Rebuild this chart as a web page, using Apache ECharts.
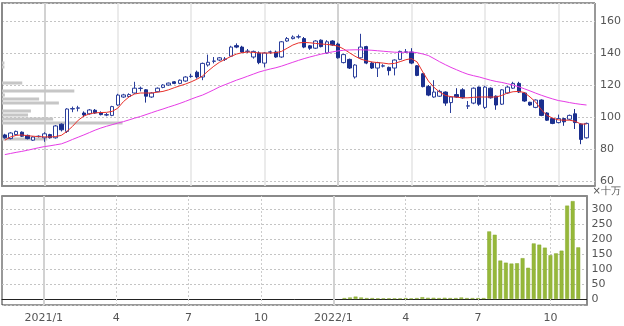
<!DOCTYPE html>
<html><head><meta charset="utf-8">
<script src="https://cdn.jsdelivr.net/npm/echarts/dist/echarts.min.js"></script>
<style>html,body{margin:0;padding:0;background:#fff}#c{width:624px;height:326px}</style>
</head><body><div id="c"></div>
<script>
// weekly categories (Monday of each week), 104 weeks of data + 1 empty slot
const startWeek = Date.UTC(2020, 10, 16);
const weeks = [];
for (let i = 0; i < 105; i++) {
  const d = new Date(startWeek + i * 7 * 86400000);
  weeks.push(d.getUTCFullYear() + '/' + (d.getUTCMonth() + 1) + '/' + d.getUTCDate());
}
const tickDates = ['2021/1/4','2021/4/5','2021/7/5','2021/10/4','2022/1/3','2022/4/4','2022/7/4','2022/10/3'];
const tickLabels = ['2021/1','4','7','10','2022/1','4','7','10'];

// [open, close, low, high]
const candles = [
[88.8,87,86.5,89.5],[86.5,90,86,90.5],[89,91,88.5,91.5],[90.5,88,87.5,91],[88.5,86.5,86,89],
[85.5,87.5,85,88],[87.8,88,87.2,88.5],[87,89.5,84.5,90.5],[89,87,86.5,89.5],[87,94.4,86.5,95],
[95.5,92,91,96],[91,105,90,105.5],[105,105.3,103,106.5],[105.5,105.7,103.5,107],[102.5,101.3,100,103.5],
[102,104.4,101.5,105],[104.2,102.5,102,105],[102.5,101.5,101,103.5],[101.2,101.5,100.5,102.5],[101,106.5,100.5,107],
[107.5,113.7,107,114.5],[112.5,113.8,112,114.5],[112.8,114,112.3,114.8],[115,118,114.5,122],[117.8,118,116,119],
[117,113,109,117.5],[112.5,115,112,115.5],[115.8,118,115.5,118.5],[118.5,120,118,120.5],[120,121.2,119.5,121.5],
[122,121,120.5,122.5],[121,123,120.5,123.5],[122.5,125,122,125.5],[125.3,125.5,124.5,127],[128,125,124,129],
[125,133.5,123,134],[132.5,134.2,131.5,139],[134.8,135,133.5,137.5],[135.6,137,135,137.5],[136,136.2,135,137.5],
[138,143.7,137.5,144.5],[144.6,143.7,143,146],[143.7,140.6,140,144.5],[141,141.2,140,142.5],[137.5,141,136.5,141.5],
[140,134,133,141],[133.7,140,131,140.5],[140.5,140.7,139.5,141.5],[140.6,137.5,137,141.5],[137.5,147,137,147.5],
[147.5,149,147,150],[149,150,148.5,151],[150,150.2,149,151.5],[149,143.7,143,150],[144.5,143,142,145],
[143,147.5,142.5,148],[148,144,143.5,148.5],[140,147,139.5,148],[147.5,145,144.5,148],[145.6,137,136.5,146.5],
[134,139,133.5,139.5],[136,130.6,130,136.5],[125,132.5,124,133],[137,143.7,136.5,152],[144,133.7,133,144.5],
[133.7,130.6,130,134.5],[130.6,134,125,134.5],[131.8,132,131,133],[131,129,126,131.5],[130.6,135.6,126,136],
[136,141,135.5,141.5],[140.5,140.7,140,142.5],[140.6,133.7,133,143],[132,126,125.5,132.5],[127,119,118.5,127.5],
[119,113.7,113,120],[112.5,115.6,112,123],[113,116,112.5,117],[115.6,108.7,107,116],[109,112.5,102.5,113],
[114,112.5,112,118],[117,112,111.5,118],[106.8,107,105,110],[108.7,118,108,118.5],[118.7,108,107,119],
[106,118.7,105,119.5],[118,112,111.5,118.5],[113,107.5,104.5,113.5],[108,117,107.5,117.5],[115,118.7,114.5,119.5],
[118,121,117.5,122],[121,115.6,115,122],[115,110,109.5,115.5],[109.2,107.5,107,109.5],[106,110.6,105.5,111],
[110.6,101,100.5,111],[102.5,98,97.5,103],[99,96,95.5,99.5],[96.5,99,96,101.5],[99,97,94.5,99.5],
[98.6,101,98,101.5],[102,96.5,92.5,105],[95.6,86,83,96],[87,96,86.5,96.5]
];

const maShort = [
85.5,87.5,88.5,88.8,88.3,88,87.7,87.6,87.5,87.8,
88.5,91,94.2,98,100.6,102,102.6,102.8,102.9,103.5,
105.5,109.6,112.6,114.4,115,115,115,115.5,116,117,
118.3,119.5,120.6,122,123.6,125.6,128.8,131.7,134.2,136,
137.8,139.3,140.2,140.6,140.4,140,140,140,140.2,141,
143,145,146.3,146.6,146.4,146,145.6,145.4,145,144.3,
142.5,140.2,138,136.2,135.2,134.4,134,133.7,133.2,133.5,
134.6,135.8,136.5,134.4,128.2,122.5,118.5,115.5,113.5,112.7,
112.4,112,112,112.3,112.5,112.5,112.5,112.5,113.5,115,
115.8,116,115.3,112.5,109.3,104.5,101,99.3,98.2,98,
98,97.3,95.6,95.6
];
const maLong = [
76.5,77.2,77.9,78.5,79.2,80,80.8,81.5,82,82.6,
83.2,84.5,86,87.4,88.8,90.3,91.8,93.1,94.2,95.2,
96.2,97.1,98.2,99.3,100.3,101.5,102.7,103.9,105,106.2,
107.3,108.5,109.8,111.2,112.5,113.7,115.3,117,118.8,120.2,
121.6,123,124.2,125.5,126.8,128.1,129.1,130,130.8,131.8,
133,134.2,135.4,136.5,137.5,138.4,139.3,140,140.7,141.3,
141.7,141.9,142,142,141.9,141.7,141.4,141.1,140.8,140.5,
140.4,140.5,140.6,140.2,139.4,138.4,136.5,134.5,132.7,131,
129.5,128,126.7,125.8,125,124,123,122.2,121.6,120.8,
119.9,118.9,117.6,116.3,114.9,113.6,112.4,111.3,110.3,109.7,
109,108.4,107.9,107.5
];

// volume in units of 100,000 shares
const volumes = [
null,null,null,null,null,null,null,null,null,null,
null,null,null,null,null,null,null,null,null,null,
null,null,null,null,null,null,null,null,null,null,
null,null,null,null,null,null,null,null,null,null,
null,null,null,null,null,null,null,null,null,null,
null,null,null,null,null,null,null,null,null,null,
null,3,5,8,5,3,3,2,2,2,
2,2,3,2,3,6,4,4,3,4,
3,3,5,3,3,3,3,225,214,128,
121,118,119,136,104,185,181,171,146,152,
161,311,326,172
];

// volume-by-price profile (band centre price, relative volume)
const profilePrices = [133.75,131.25,121.25,116.25,113.75,111.25,108.75,103.75,101.25,98.75,96.25,86.25];
const profileVolumes = [25,25,210,750,30,385,590,300,270,530,1250,470];
const profileAxisMax = 6150;

const FONT = 'DejaVu Sans';
const isYear = k => tickLabels[k].indexOf('/') >= 0;
function vlines(yearStyle, qStyle) {
  return tickDates.map((d, k) => ({ xAxis: d, lineStyle: isYear(k) ? yearStyle : qStyle }));
}

const chart = echarts.init(document.getElementById('c'), null, { renderer: 'canvas' });
chart.setOption({
  animation: false,
  backgroundColor: '#fff',
  grid: [
    { left: 2, right: 29, top: 3, height: 183, show: true, borderColor: '#333', borderWidth: 1 },
    { left: 2, right: 29, top: 196, height: 109, show: true, borderColor: '#333', borderWidth: 1 }
  ],
  xAxis: [
    { type: 'category', gridIndex: 0, data: weeks, boundaryGap: true,
      axisLine: { show: true, lineStyle: { color: '#8a8a8a', width: 2 } },
      axisTick: { show: false }, axisLabel: { show: false }, splitLine: { show: false } },
    { type: 'category', gridIndex: 1, data: weeks, boundaryGap: true,
      axisLine: { show: true, lineStyle: { color: '#222', width: 1 } },
      axisTick: { show: false }, splitLine: { show: false },
      axisLabel: { show: true, interval: (i, v) => tickDates.indexOf(v) >= 0,
        formatter: v => { const k = tickDates.indexOf(v); return k >= 0 ? tickLabels[k] : ''; },
        fontFamily: FONT, fontSize: 11, color: '#555', margin: 8 } },
    { type: 'value', gridIndex: 0, position: 'top', min: 0, max: profileAxisMax, show: false },
    { type: 'category', gridIndex: 1, position: 'top', data: weeks,
      axisLine: { show: true, lineStyle: { color: '#8a8a8a', width: 2 } },
      axisTick: { show: false }, axisLabel: { show: false }, splitLine: { show: false } }
  ],
  yAxis: [
    { type: 'value', gridIndex: 0, position: 'right', min: 56.875, max: 171.25, splitNumber: 5,
      axisLine: { show: true, lineStyle: { color: '#8a8a8a', width: 2 } },
      axisTick: { show: false },
      axisLabel: { formatter: v => (Math.abs(v % 20) < 1e-6 ? String(v) : ''), fontFamily: FONT, fontSize: 11, color: '#555', margin: 5 },
      splitLine: { show: true, lineStyle: { color: '#c4c4c4', type: [2, 2], width: 1 } } },
    { type: 'value', gridIndex: 1, position: 'right', min: -20, max: 343, splitNumber: 7,
      name: '×十万', nameLocation: 'end', nameGap: 0,
      nameTextStyle: { fontFamily: FONT, fontSize: 10, color: '#555', align: 'left', padding: [0, 0, 0, 6] },
      axisLine: { show: true, lineStyle: { color: '#8a8a8a', width: 2 } },
      axisTick: { show: false },
      axisLabel: { formatter: v => (v >= 0 && Math.abs(v % 50) < 1e-6 ? String(v) : ''), fontFamily: FONT, fontSize: 11, color: '#555', margin: 5 },
      splitLine: { show: true, lineStyle: { color: '#c4c4c4', type: [2, 2], width: 1 } } }
  ],
  series: [
    { type: 'custom', xAxisIndex: 2, yAxisIndex: 0, z: 1, silent: true,
      data: profilePrices.map((p, k) => [p, profileVolumes[k]]),
      encode: { x: 1, y: 0 },
      renderItem: (params, api) => {
        const p = api.value(0), v = api.value(1);
        const a = api.coord([0, p + 0.95]);
        const b = api.coord([v, p - 0.95]);
        return { type: 'rect', shape: { x: a[0], y: a[1], width: b[0] - a[0], height: b[1] - a[1] },
                 style: { fill: '#c6c6c6' } };
      } },
    { type: 'candlestick', xAxisIndex: 0, yAxisIndex: 0, z: 3, data: candles, barWidth: '70%',
      itemStyle: { color: '#ffffff', color0: '#1b2f8e', borderColor: '#2b3f9c', borderColor0: '#1b2f8e', borderWidth: 1 },
      markLine: { silent: true, z: 1, symbol: ['none', 'none'], label: { show: false },
        data: vlines({ color: '#d2d2d2', width: 2, type: 'solid' }, { color: '#e4e4e4', width: 1.5, type: 'solid' }) } },
    { type: 'line', xAxisIndex: 0, yAxisIndex: 0, z: 4, data: maShort, symbol: 'none',
      lineStyle: { color: '#e8302a', width: 1 } },
    { type: 'line', xAxisIndex: 0, yAxisIndex: 0, z: 4, data: maLong, symbol: 'none',
      lineStyle: { color: '#e63ce6', width: 1 } },
    { type: 'bar', xAxisIndex: 1, yAxisIndex: 1, z: 3, data: volumes, barWidth: '70%',
      itemStyle: { color: '#96b83a', borderColor: '#86a82e', borderWidth: 0.5 },
      markLine: { silent: true, z: 1, symbol: ['none', 'none'], label: { show: false },
        data: vlines({ color: '#d2d2d2', width: 2, type: 'solid' }, { color: '#cccccc', width: 1, type: [2, 2] }) } }
  ]
});
</script>
</body></html>
